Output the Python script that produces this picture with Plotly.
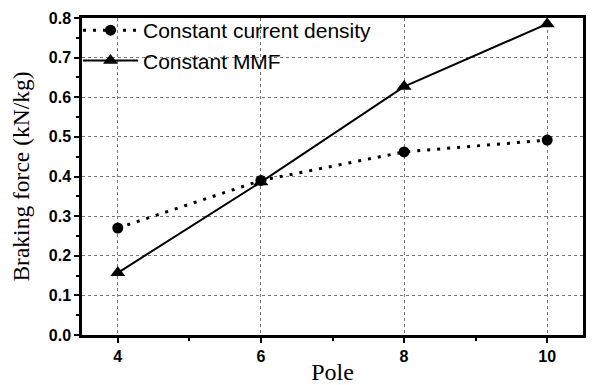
import plotly.graph_objects as go

poles = [4, 6, 8, 10]
current_density = [0.27, 0.39, 0.462, 0.492]
constant_mmf = [0.157, 0.386, 0.627, 0.785]
x_ticks = [4, 6, 8, 10]
y_ticks = [0.0, 0.1, 0.2, 0.3, 0.4, 0.5, 0.6, 0.7, 0.8]

fig = go.Figure()
fig.add_trace(go.Scatter(
    x=poles, y=current_density, mode="lines+markers",
    name="Constant current density",
    line=dict(color="black", width=3, dash="3px,7px"),
    marker=dict(symbol="circle", size=11, color="black"),
))
fig.add_trace(go.Scatter(
    x=poles, y=constant_mmf, mode="lines+markers",
    name="Constant MMF",
    line=dict(color="black", width=2),
    marker=dict(symbol="triangle-up", size=13, color="black"),
))

axis_common = dict(
    showline=True, linecolor="black", linewidth=2.5, mirror=True,
    ticks="outside", ticklen=5, tickwidth=2, tickcolor="black",
    showgrid=True, gridcolor="#777", griddash="dot", gridwidth=1,
    zeroline=False, automargin=False,
    tickfont=dict(family="Liberation Sans, Arial", size=16, color="black", weight="bold"),
)

fig.update_xaxes(
    range=[3.5, 10.5], tickvals=x_ticks, ticktext=[str(v) for v in x_ticks],
    minor=dict(dtick=1, tick0=0, ticks="outside", ticklen=3, tickcolor="black", showgrid=False),
    title=dict(text="Pole", font=dict(family="Liberation Serif, Times New Roman", size=24, color="black"), standoff=2),
    **axis_common,
)
fig.update_yaxes(
    range=[0, 0.8], tickvals=y_ticks, ticktext=[f"{v:.1f}" for v in y_ticks],
    minor=dict(dtick=0.05, ticks="outside", ticklen=3, tickcolor="black", showgrid=False),
    title=dict(text="Braking force (kN/kg)", font=dict(family="Liberation Serif, Times New Roman", size=23.5, color="black"), standoff=13),
    **axis_common,
)

fig.update_layout(
    width=592, height=385,
    margin=dict(l=82, r=9, t=18, b=50),
    plot_bgcolor="white", paper_bgcolor="white",
    showlegend=True,
    legend=dict(
        x=-0.008, y=1.025, xanchor="left", yanchor="top",
        bgcolor="rgba(0,0,0,0)", borderwidth=0,
        font=dict(family="Liberation Sans, Arial", size=21, color="black"),
        itemwidth=55, tracegroupgap=0,
    ),
)

fig.write_html(
    "out.html",
    config={"displayModeBar": False},
    post_script="document.body.style.margin='0';document.body.style.overflow='hidden';",
)
